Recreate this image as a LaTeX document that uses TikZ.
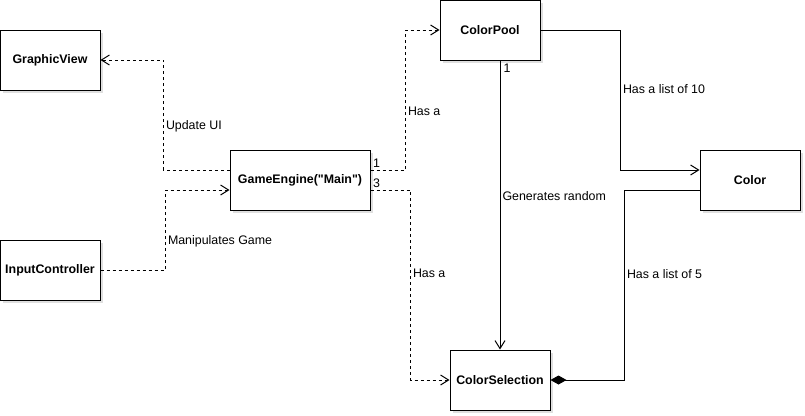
\documentclass[tikz,border=0pt]{standalone}
\usepackage{fontspec}
\setmainfont{Liberation Sans}[Ligatures=TeXOff]
\usetikzlibrary{arrows.meta,shadows}

\begin{document}
\begin{tikzpicture}[x=1pt,y=-1pt,node distance=250pt,line width=1pt,
    >={Straight Barb[length=8pt,width=10pt]},
    every node/.style={font=\fontsize{12.4}{14}\selectfont},
    box/.style={draw,fill=white,minimum width=100pt,minimum height=60pt,
      font=\fontsize{12.4}{14}\selectfont\bfseries,
      drop shadow={shadow xshift=3pt,shadow yshift=-3pt,opacity=.25}},
    dep/.style={dash pattern=on 3pt off 3pt,->},
    lbl/.style={right,inner sep=2pt}]
      \useasboundingbox (0,0) rectangle (805,415);
      \node[box,minimum width=140pt] (1) at (300,180) {GameEngine("Main")};
      \node[box,left of=1,yshift=120pt] (2) {GraphicView};
      \node[box,below of=2,yshift=40pt] (3) {InputController};
      \node[box,right of=1,xshift=-60pt,yshift=150pt] (4) {ColorPool};
      \node[box,right of=4,xshift=10pt,yshift=-150pt] (5) {Color};
      \node[box,below of=4,xshift=10pt,yshift=-100pt] (6) {ColorSelection};

      \draw[dep] ([yshift=10pt]1.west) -- ++(-66,0) |- node[pos=.2,lbl] {Update UI} (2);
      \draw[dep] (3.east) -- ++(65,0) |- node[pos=.18,lbl] {Manipulates Game} ([yshift=-10pt]1.west);
      \draw[dep] ([yshift=10pt]1.east) node[above right,inner sep=2pt] {1} -- ++(35,0) |- node[pos=.21,lbl] {Has a} (4);
      \draw[dep] ([yshift=-10pt]1.east) node[above right,inner sep=2pt] {3} -- ++(40,0) |- node[pos=.22,lbl] {Has a} (6);
      \draw[->] (4.east) -- ++(80,0) |- node[pos=.21,lbl] {Has a list of 10} ([yshift=10pt]5.west);
      \draw[->] (6.north |- 4.south) node[below right,inner sep=3pt] {1} -- node[pos=.47,lbl] {Generates random} (6.north);
      \draw[-{Diamond[length=16pt,width=9pt]}] ([yshift=-10pt]5.west) -- ++(-75,0) |- node[pos=.22,lbl] {Has a list of 5} (6);
    \end{tikzpicture}
\end{document}
